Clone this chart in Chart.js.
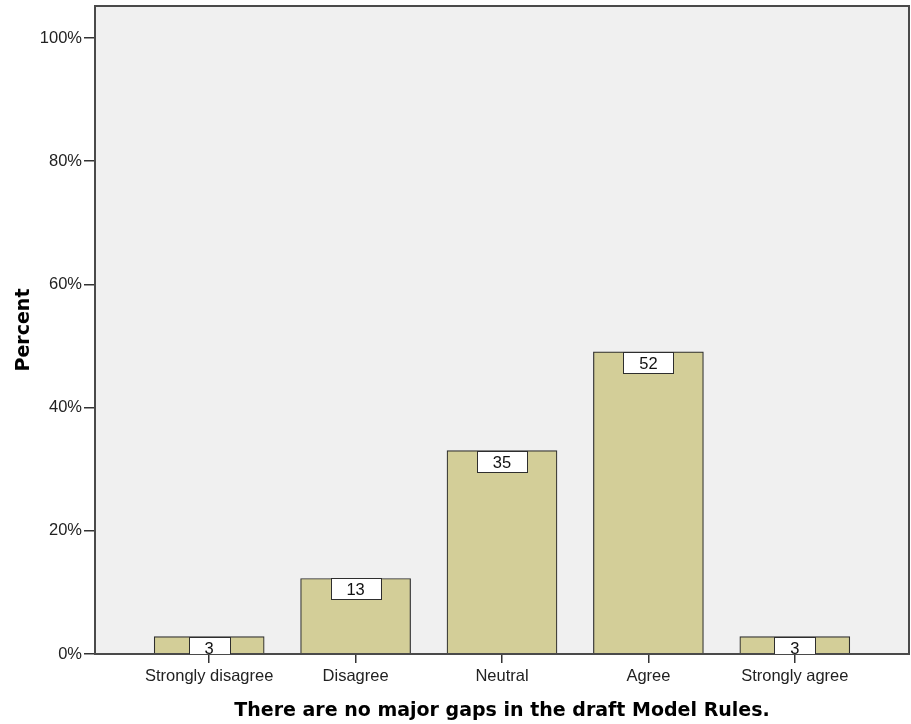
<!DOCTYPE html>
<html>
<head>
<meta charset="utf-8">
<script src="https://cdn.jsdelivr.net/npm/chart.js@4/dist/chart.umd.min.js"></script>
<style>
  html, body { margin: 0; padding: 0; background: #ffffff; }
  #wrap { width: 911px; height: 724px; position: relative; }
</style>
</head>
<body>
<div id="wrap"><canvas id="chart"></canvas></div>
<script>
// Responses to: "There are no major gaps in the draft Model Rules."
const categories = ['Strongly disagree', 'Disagree', 'Neutral', 'Agree', 'Strongly agree'];
const counts = [3, 13, 35, 52, 3];
const yTickValues = [0, 20, 40, 60, 80, 100];
const xTitle = 'There are no major gaps in the draft Model Rules.';
const yTitle = 'Percent';

// Bars show each answer's share of all responses, in percent
const total = counts.reduce((a, b) => a + b, 0);
const percents = counts.map(c => c / total * 100);

const TICK_FONT = { family: '"Liberation Sans", Arial, sans-serif', size: 16.5 };
const TITLE_FONT = { family: '"DejaVu Sans", Verdana, sans-serif', size: 19, weight: 'bold', lineHeight: 1 };

// Grey plot background and dark frame around the plot area
const framePlugin = {
  id: 'frame',
  beforeDatasetsDraw(chart) {
    const { ctx, chartArea: a } = chart;
    ctx.save();
    ctx.fillStyle = '#f0f0f0';
    ctx.fillRect(a.left, a.top, a.right - a.left, a.bottom - a.top);
    ctx.restore();
  },
  afterDatasetsDraw(chart) {
    const { ctx, chartArea: a } = chart;
    ctx.save();
    ctx.strokeStyle = '#4a4a4a';
    ctx.lineWidth = 2;
    ctx.strokeRect(a.left, a.top, a.right - a.left, a.bottom - a.top);
    ctx.restore();
  }
};

// Boxed count label hanging from the top of each bar
const countLabels = {
  id: 'countLabels',
  afterDatasetsDraw(chart) {
    const { ctx, chartArea: a } = chart;
    const meta = chart.getDatasetMeta(0);
    ctx.save();
    ctx.beginPath();
    ctx.rect(a.left, a.top, a.right - a.left, a.bottom - a.top);
    ctx.clip();
    ctx.font = `${TICK_FONT.size}px ${TICK_FONT.family}`;
    ctx.textAlign = 'center';
    ctx.textBaseline = 'middle';
    meta.data.forEach((bar, i) => {
      const text = String(counts[i]);
      const w = Math.round(ctx.measureText(text).width + 32);
      const h = 21;
      const x0 = Math.round(bar.x - w / 2) + 0.5;
      const y0 = Math.round(bar.y) + 0.5;
      ctx.fillStyle = '#ffffff';
      ctx.fillRect(x0, y0, w, h);
      ctx.strokeStyle = '#2e2e2e';
      ctx.lineWidth = 1;
      ctx.strokeRect(x0, y0, w, h);
      ctx.fillStyle = '#111111';
      ctx.fillText(text, bar.x, y0 + h / 2 + 1);
    });
    ctx.restore();
  }
};

new Chart(document.getElementById('chart'), {
  type: 'bar',
  data: {
    datasets: [{
      data: percents.map((p, i) => ({ x: i, y: p })),
      backgroundColor: '#d3ce98',
      borderColor: '#2e2e2e',
      borderWidth: 1.2,
      borderSkipped: 'bottom',
      barThickness: 110
    }]
  },
  options: {
    responsive: true,
    maintainAspectRatio: false,
    animation: false,
    layout: { padding: { top: 6, right: 2, left: 0, bottom: 0 } },
    plugins: { legend: { display: false }, tooltip: { enabled: false } },
    scales: {
      x: {
        type: 'linear',
        offset: false,
        min: -0.78,
        max: 4.78,
        afterBuildTicks(scale) { scale.ticks = categories.map((_, i) => ({ value: i })); },
        afterFit(scale) { scale.height = 70; scale.paddingLeft = 0; scale.paddingRight = 0; },
        ticks: {
          autoSkip: false, maxRotation: 0, minRotation: 0,
          padding: 4, color: '#222222', font: TICK_FONT,
          callback: v => categories[v]
        },
        grid: { offset: false, drawOnChartArea: false, drawTicks: true, tickLength: 9, tickColor: '#333333', lineWidth: 1.5 },
        border: { display: false },
        title: { display: true, text: xTitle, color: '#000000', font: TITLE_FONT, padding: { top: 0, bottom: 3 } }
      },
      y: {
        min: 0,
        max: 105.2,
        afterBuildTicks(scale) { scale.ticks = yTickValues.map(v => ({ value: v })); },
        afterFit(scale) { scale.width = 95; scale.paddingTop = 0; scale.paddingBottom = 0; },
        ticks: {
          padding: 2, color: '#222222', font: TICK_FONT,
          callback: v => v + '%'
        },
        grid: { drawOnChartArea: false, drawTicks: true, tickLength: 11, tickColor: '#333333', lineWidth: 1.5 },
        border: { display: false },
        title: { display: true, text: yTitle, color: '#000000', font: TITLE_FONT, padding: { top: 15, bottom: 0 } }
      }
    }
  },
  plugins: [framePlugin, countLabels]
});
</script>
</body>
</html>
